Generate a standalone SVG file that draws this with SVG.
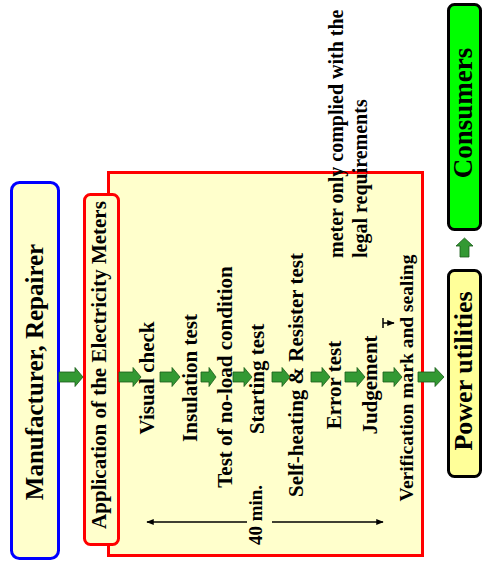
<svg xmlns="http://www.w3.org/2000/svg" width="484" height="567" viewBox="0 0 484 567">
<style>
.t{font-family:"Liberation Serif","Times New Roman",serif;font-weight:bold;fill:#000}
.m{text-anchor:middle}
.ga{fill:#339933;stroke:#1a5c1a;stroke-width:0.8}
.ln{stroke:#000;stroke-width:1.5;fill:none}
</style>
<defs>
<marker id="ah" viewBox="0 0 10 10" refX="9" refY="5" markerWidth="5" markerHeight="5" markerUnits="strokeWidth" orient="auto">
<path d="M0,1 L10,5 L0,9 z" fill="#000"/>
</marker>
</defs>
<rect width="484" height="567" fill="#fff"/>

<g id="manufacturer">
<rect x="11.5" y="182.5" width="47" height="376" rx="8" fill="#FFFFCC" stroke="#0000FF" stroke-width="3"/>
<text class="t m" font-size="25" transform="translate(43,372) rotate(-90)">Manufacturer, Repairer</text>
</g>

<g id="process">
<rect x="108.5" y="172.5" width="314" height="383" fill="#FFFFCC" stroke="#FF0000" stroke-width="3"/>
</g>

<g id="application">
<rect x="84.5" y="194.5" width="34" height="350" rx="6" fill="#FFFFCC" stroke="#FF0000" stroke-width="3"/>
<text class="t m" font-size="21" transform="translate(106,365) rotate(-90)">Application of the Electricity Meters</text>
</g>

<g id="steps">
<text class="t m" font-size="21" transform="translate(154,378) rotate(-90)">Visual check</text>
<text class="t m" font-size="21" transform="translate(197,378) rotate(-90)">Insulation test</text>
<text class="t m" font-size="21" transform="translate(232,377) rotate(-90)">Test of no-load condition</text>
<text class="t m" font-size="21" transform="translate(264,379) rotate(-90)">Starting test</text>
<text class="t m" font-size="21" transform="translate(303,375) rotate(-90)">Self-heating &amp; Resister test</text>
<text class="t m" font-size="21" transform="translate(341,385) rotate(-90)">Error test</text>
<text class="t m" font-size="21" transform="translate(377,385) rotate(-90)">Judgement</text>
<text class="t m" font-size="19.5" transform="translate(413,378) rotate(-90)">Verification mark and sealing</text>
<text class="t" font-size="20" transform="translate(343,258) rotate(-90)">meter only complied with the</text>
<text class="t" font-size="20" transform="translate(367,258) rotate(-90)">legal requirements</text>
<text class="t m" font-size="19" transform="translate(262,515) rotate(-90)">40 min.</text>
</g>

<g id="power">
<rect x="448.5" y="270.5" width="32" height="206" rx="6" fill="#FFFF99" stroke="#000" stroke-width="3"/>
<text class="t m" font-size="26" transform="translate(472,371) rotate(-90)">Power utilities</text>
</g>

<g id="consumers">
<rect x="448.5" y="4.5" width="32" height="225" rx="6" fill="#00FF00" stroke="#000" stroke-width="3"/>
<text class="t m" font-size="27" transform="translate(472,113) rotate(-90)">Consumers</text>
</g>

<g id="connectors">
<polygon class="ga" points="59,372 75,372 75,367.5 83,377 75,386.5 75,382 59,382"/>
<polygon class="ga" points="119,372 133,372 133,367.5 141,377 133,386.5 133,382 119,382"/>
<polygon class="ga" points="160,372 172,372 172,367.5 180,377 172,386.5 172,382 160,382"/>
<polygon class="ga" points="201,372 209,372 209,367.5 216,377 209,386.5 209,382 201,382"/>
<polygon class="ga" points="233,372 244,372 244,367.5 252,377 244,386.5 244,382 233,382"/>
<polygon class="ga" points="272,372 282,372 282,367.5 290,377 282,386.5 282,382 272,382"/>
<polygon class="ga" points="311,372 322,372 322,367.5 330,377 322,386.5 322,382 311,382"/>
<polygon class="ga" points="345,372 357,372 357,367.5 365,377 357,386.5 357,382 345,382"/>
<polygon class="ga" points="383,372 394,372 394,367.5 402,377 394,386.5 394,382 383,382"/>
<polygon class="ga" points="418,372 435,372 435,367.5 444,377 435,386.5 435,382 418,382"/>
<polygon class="ga" points="460,257 460,246 456,246 464.5,238 473,246 469,246 469,257"/>
<line class="ln" x1="247" y1="522" x2="147" y2="522" marker-end="url(#ah)"/>
<line class="ln" x1="272" y1="522" x2="383" y2="522" marker-end="url(#ah)"/>
<line class="ln" x1="383" y1="318" x2="383" y2="328"/>
<line class="ln" x1="383" y1="323" x2="394" y2="323" marker-end="url(#ah)"/>
</g>
</svg>
